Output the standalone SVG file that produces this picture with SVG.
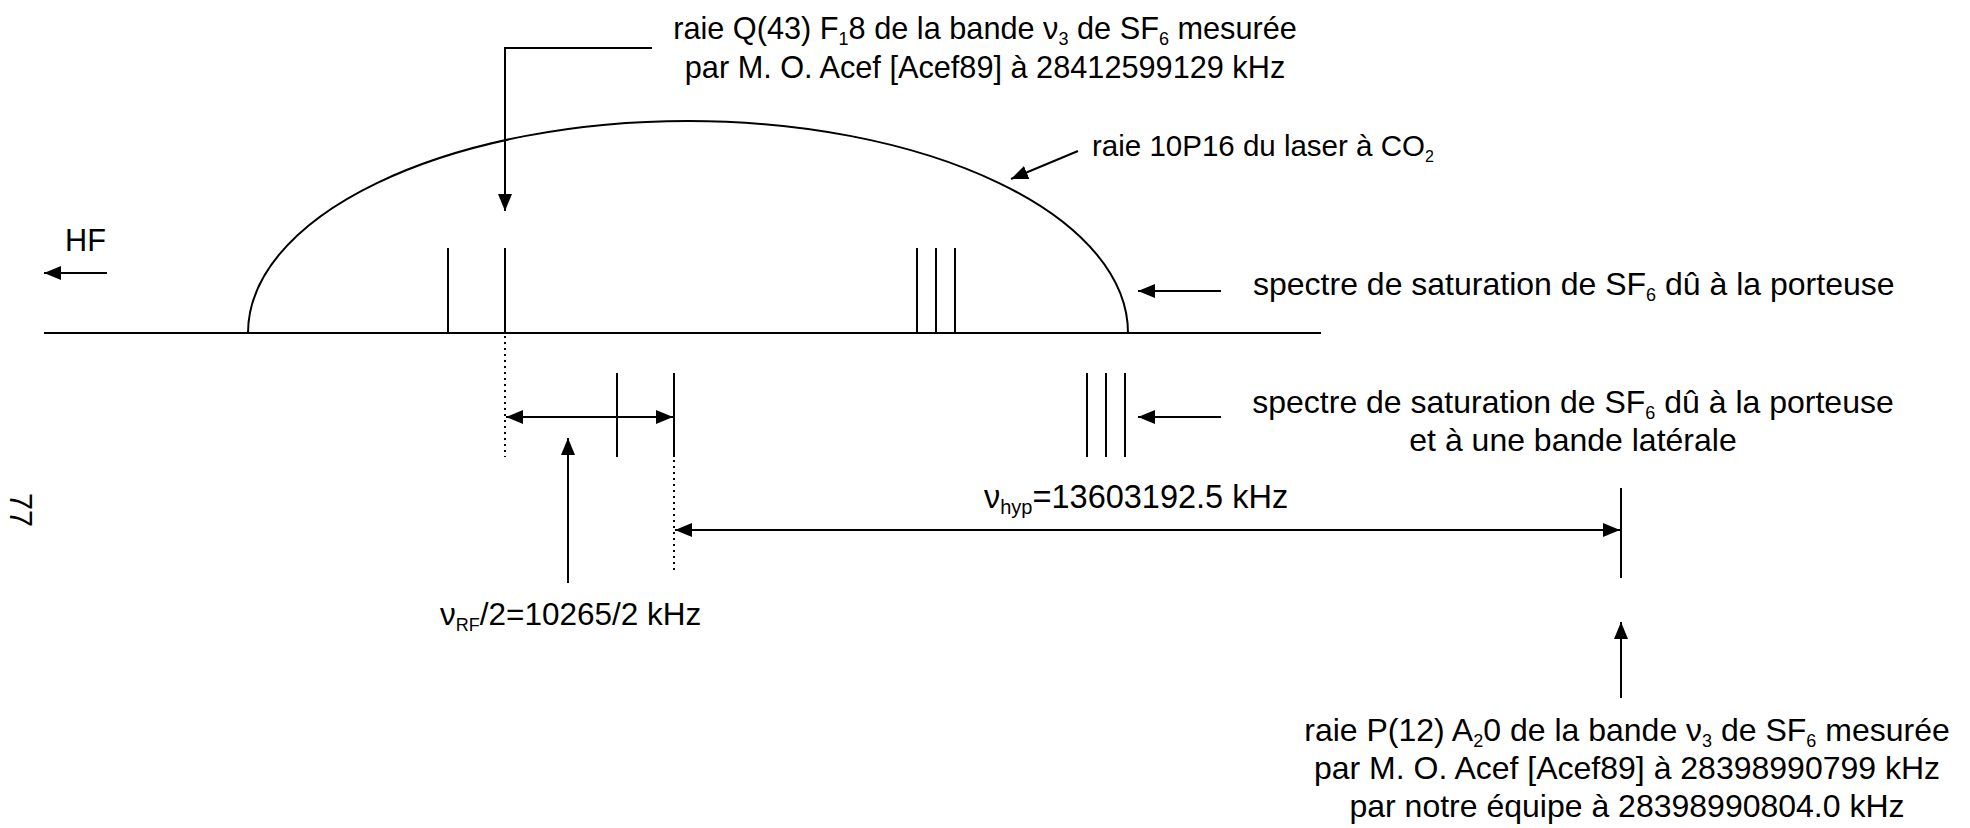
<svg xmlns="http://www.w3.org/2000/svg" width="1970" height="828" viewBox="0 0 1970 828">
<style>
  .t { font-family: "Liberation Sans", Arial, sans-serif; font-size: 32px; fill: #000; }
  .t31 { font-size: 30.7px; }
  .sub { font-size: 18px; }
  .ln { stroke: #000; stroke-width: 2; fill: none; }
  .dot { stroke: #000; stroke-width: 2; fill: none; stroke-dasharray: 2 4; }
</style>
<defs>
  <marker id="ah" markerUnits="userSpaceOnUse" markerWidth="18" markerHeight="16" refX="17" refY="7" orient="auto-start-reverse" viewBox="0 0 18 14">
    <path d="M0,0 L17,7 L0,14 z" fill="#000"/>
  </marker>
</defs>

<g id="spectrum">
  <line class="ln" x1="44" y1="333" x2="1321" y2="333"/>
  <path id="dome" class="ln" d="M248,333 A440,212 0 0 1 1128,333"/>
  <line class="ln" x1="448" y1="248" x2="448" y2="333"/>
  <line class="ln" x1="505" y1="248" x2="505" y2="333"/>
  <line class="ln" x1="917" y1="248" x2="917" y2="333"/>
  <line class="ln" x1="936" y1="248" x2="936" y2="333"/>
  <line class="ln" x1="955" y1="248" x2="955" y2="333"/>
  <line class="ln" x1="617" y1="373" x2="617" y2="457"/>
  <line class="ln" x1="674" y1="373" x2="674" y2="457"/>
  <line class="ln" x1="1087" y1="373" x2="1087" y2="457"/>
  <line class="ln" x1="1106" y1="373" x2="1106" y2="457"/>
  <line class="ln" x1="1125" y1="373" x2="1125" y2="457"/>
  <line class="ln" x1="1621" y1="488" x2="1621" y2="578"/>
  <line class="dot" x1="505" y1="336" x2="505" y2="457"/>
  <line class="dot" x1="674" y1="460" x2="674" y2="570"/>
</g>

<g id="connectors">
  <polyline class="ln" points="652,48 505,48 505,211" marker-end="url(#ah)"/>
  <line class="ln" x1="1078" y1="151" x2="1011" y2="179" marker-end="url(#ah)"/>
  <line class="ln" x1="1221" y1="291" x2="1138" y2="291" marker-end="url(#ah)"/>
  <line class="ln" x1="1221" y1="417" x2="1138" y2="417" marker-end="url(#ah)"/>
  <line class="ln" x1="107" y1="273" x2="44" y2="273" marker-end="url(#ah)"/>
  <line class="ln" x1="506" y1="417" x2="673" y2="417" marker-start="url(#ah)" marker-end="url(#ah)"/>
  <line class="ln" x1="568" y1="583" x2="568" y2="438" marker-end="url(#ah)"/>
  <line class="ln" x1="675" y1="530" x2="1620" y2="530" marker-start="url(#ah)" marker-end="url(#ah)"/>
  <line class="ln" x1="1621" y1="698" x2="1621" y2="622" marker-end="url(#ah)"/>
</g>

<g id="label-top">
  <text class="t t31" x="985" y="39" text-anchor="middle">raie Q(43) F<tspan class="sub" dy="6">1</tspan><tspan dy="-6">8 de la bande ν</tspan><tspan class="sub" dy="6">3</tspan><tspan dy="-6"> de SF</tspan><tspan class="sub" dy="6">6</tspan><tspan dy="-6"> mesurée</tspan></text>
  <text class="t t31" x="985" y="78" text-anchor="middle">par M. O. Acef [Acef89] à 28412599129 kHz</text>
</g>

<g id="label-laser">
  <text class="t" style="font-size:29.5px" x="1092" y="156">raie 10P16 du laser à CO<tspan style="font-size:16px" dy="6">2</tspan></text>
</g>

<g id="label-hf">
  <text class="t t31" x="65" y="251">HF</text>
</g>

<g id="label-spectre1">
  <text class="t" x="1253" y="295">spectre de saturation de SF<tspan class="sub" dy="6">6</tspan><tspan dy="-6"> dû à la porteuse</tspan></text>
</g>

<g id="label-spectre2">
  <text class="t" x="1573" y="413" text-anchor="middle">spectre de saturation de SF<tspan class="sub" dy="6">6</tspan><tspan dy="-6"> dû à la porteuse</tspan></text>
  <text class="t" x="1573" y="451" text-anchor="middle">et à une bande latérale</text>
</g>

<g id="label-hyp">
  <text class="t" style="font-size:32.5px" x="984" y="508">ν<tspan style="font-size:20px" dy="6">hyp</tspan><tspan dy="-6">=13603192.5 kHz</tspan></text>
</g>

<g id="label-rf">
  <text class="t" style="font-size:31.5px" x="440" y="625">ν<tspan class="sub" dy="6">RF</tspan><tspan dy="-6">/2=10265/2 kHz</tspan></text>
</g>

<g id="label-bottom">
  <text class="t" x="1627" y="741" text-anchor="middle">raie P(12) A<tspan class="sub" dy="6">2</tspan><tspan dy="-6">0 de la bande ν</tspan><tspan class="sub" dy="6">3</tspan><tspan dy="-6"> de SF</tspan><tspan class="sub" dy="6">6</tspan><tspan dy="-6"> mesurée</tspan></text>
  <text class="t" x="1627" y="779" text-anchor="middle">par M. O. Acef [Acef89] à 28398990799 kHz</text>
  <text class="t" x="1627" y="817" text-anchor="middle">par notre équipe à 28398990804.0 kHz</text>
</g>

<g id="page-number">
  <text class="t t31" transform="translate(10,493) rotate(90)">77</text>
</g>
</svg>
